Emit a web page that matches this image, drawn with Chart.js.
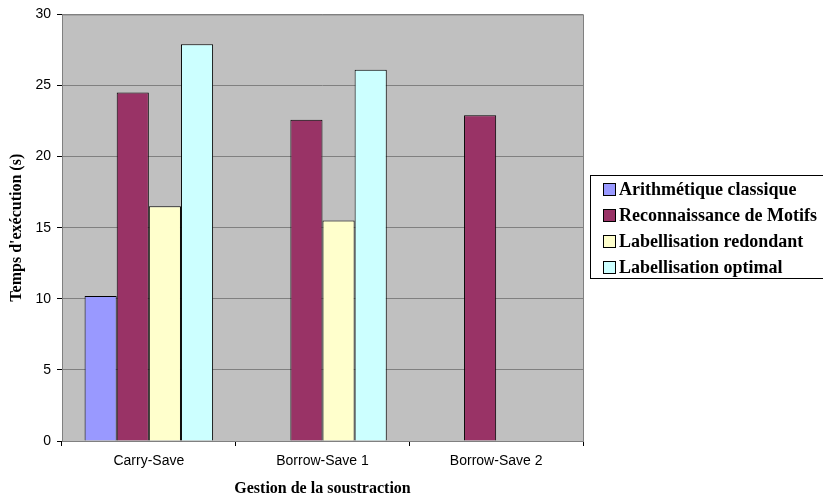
<!DOCTYPE html>
<html>
<head>
<meta charset="utf-8">
<script src="https://cdn.jsdelivr.net/npm/chart.js@4"></script>
<style>
    html, body { margin: 0; padding: 0; background: #fff; }
    #wrap { width: 823px; height: 498px; position: relative; }
</style>
</head>
<body>
<div id="wrap"><canvas id="chart"></canvas></div>
<script>
const categories = ['Carry-Save', 'Borrow-Save 1', 'Borrow-Save 2'];
const seriesNames = ['Arithmétique classique', 'Reconnaissance de Motifs', 'Labellisation redondant', 'Labellisation optimal'];
const arithmetique = [10.2, null, null];
const reconnaissance = [24.5, 22.6, 22.9];
const labelRedondant = [16.5, 15.5, null];
const labelOptimal = [27.9, 26.1, null];
const seriesColors = ['#9999FF', '#993366', '#FFFFCC', '#CCFFFF'];
const yTicks = [0, 5, 10, 15, 20, 25, 30];

const serif = "'Liberation Serif', 'Times New Roman', serif";
const sans = "'Liberation Sans', Arial, sans-serif";

const plotBackground = {
    id: 'plotBackground',
    beforeDraw(chart) {
        const a = chart.chartArea;
        const ctx = chart.ctx;
        ctx.save();
        ctx.fillStyle = '#C0C0C0';
        ctx.fillRect(a.left, a.top, a.right - a.left, a.bottom - a.top);
        ctx.restore();
    },
    afterDraw(chart) {
        const a = chart.chartArea;
        const ctx = chart.ctx;
        ctx.save();
        ctx.strokeStyle = '#808080';
        ctx.lineWidth = 1;
        ctx.strokeRect(a.left + 0.5, a.top + 0.5, a.right - a.left, a.bottom - a.top);
        ctx.restore();
    }
};

// legend with a frame, drawn right of the plot
const boxLegend = {
    id: 'boxLegend',
    afterDraw(chart) {
        const ctx = chart.ctx;
        const x = 590, y = 175, w = 240, h = 103;
        ctx.save();
        ctx.fillStyle = '#fff';
        ctx.fillRect(x, y, w, h);
        ctx.strokeStyle = '#000';
        ctx.lineWidth = 1;
        ctx.strokeRect(x + 0.5, y + 0.5, w, h);
        ctx.font = 'bold 18px ' + serif;
        ctx.textBaseline = 'middle';
        chart.data.datasets.forEach(function (ds, i) {
            const cy = y + 14 + i * 26;
            ctx.fillStyle = ds.backgroundColor;
            ctx.fillRect(603, cy - 6, 12, 12);
            ctx.strokeStyle = '#000';
            ctx.strokeRect(603.5, cy - 5.5, 12, 12);
            ctx.fillStyle = '#000';
            ctx.fillText(ds.label, 619, cy + 1);
        });
        ctx.restore();
    }
};

const datasets = [arithmetique, reconnaissance, labelRedondant, labelOptimal].map(function (values, i) {
    return {
        label: seriesNames[i],
        data: values,
        backgroundColor: seriesColors[i],
        borderColor: '#000',
        borderWidth: 1,
        borderSkipped: 'bottom',
        categoryPercentage: 0.74,
        barPercentage: 1
    };
});

new Chart(document.getElementById('chart'), {
    type: 'bar',
    data: { labels: categories, datasets: datasets },
    plugins: [plotBackground, boxLegend],
    options: {
        responsive: true,
        maintainAspectRatio: false,
        animation: false,
        layout: { padding: { top: 14, right: 240, left: 0, bottom: 0 } },
        plugins: {
            legend: { display: false },
            tooltip: { enabled: false }
        },
        scales: {
            x: {
                afterFit: function (s) { s.height = 57; },
                grid: {
                    display: true,
                    offset: true,
                    drawOnChartArea: false,
                    color: '#000',
                    tickLength: 5
                },
                border: { display: false },
                ticks: { color: '#000', font: { family: sans, size: 14 }, padding: 7 },
                title: {
                    display: true,
                    text: 'Gestion de la soustraction',
                    color: '#000',
                    font: { family: serif, size: 16, weight: 'bold' },
                    padding: { top: 4, bottom: 0 }
                }
            },
            y: {
                min: 0,
                max: 30,
                afterFit: function (s) { s.width = 62; },
                afterBuildTicks: function (s) { s.ticks = yTicks.map(v => ({ value: v })); },
                grid: { color: '#808080', lineWidth: 1, tickLength: 5, tickColor: '#000' },
                border: { display: false },
                ticks: { color: '#000', font: { family: sans, size: 14 }, padding: 6 },
                title: {
                    display: true,
                    text: "Temps d'exécution (s)",
                    color: '#000',
                    font: { family: serif, size: 16, weight: 'bold' },
                    padding: { top: 7, bottom: 4 }
                }
            }
        }
    }
});
</script>
</body>
</html>
